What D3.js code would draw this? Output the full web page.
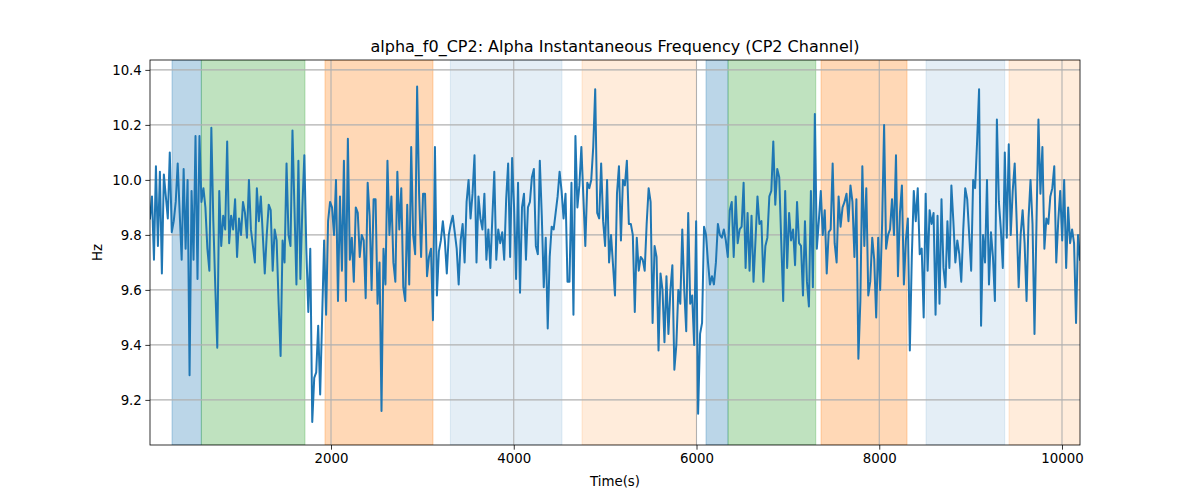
<!DOCTYPE html>
<html><head><meta charset="utf-8">
<script src="https://cdn.jsdelivr.net/npm/d3@7"></script>
<style>body{margin:0;background:#fff} text{font-family:"DejaVu Sans",sans-serif;fill:#000}</style>
</head><body><svg id="c" width="1200" height="500"></svg>
<script>
// time extent of the recording (s)
const tStart = 19, tEnd = 10197;
// alpha instantaneous frequency (Hz), evenly sampled from tStart to tEnd
const freq = [
9.86,9.94,9.71,10.05,9.76,10.03,9.66,10.02,9.94,9.86,10.10,9.81,9.85,9.92,10.06,9.88,9.71,10.04,9.75,10.00,9.29,9.96,9.71,10.16,9.64,10.16,9.92,9.97,9.90,9.75,9.67,10.19,9.85,9.61,9.39,9.96,9.76,9.87,9.82,10.14,9.77,9.87,9.82,9.93,9.72,9.86,9.80,9.92,
9.88,9.79,10.00,9.82,9.76,9.70,9.97,9.85,9.94,9.80,9.66,9.80,9.91,9.89,9.67,9.82,9.78,9.55,9.36,9.78,9.70,10.06,9.80,9.76,10.18,9.90,9.62,10.07,9.64,9.90,10.09,9.75,9.52,9.75,9.12,9.28,9.30,9.47,9.22,9.50,9.78,9.51,9.85,9.92,9.90,9.80,10.00,9.56,
9.94,9.67,10.07,9.56,10.15,9.71,9.79,9.63,9.90,9.88,9.72,9.80,9.78,9.57,9.99,9.87,9.60,9.93,9.93,9.55,9.70,9.16,9.75,9.62,10.07,9.80,9.94,9.70,9.63,10.03,9.82,9.97,9.61,9.56,9.91,9.62,10.12,9.80,9.73,10.34,9.95,9.72,9.95,9.95,9.65,9.72,9.75,9.49,
10.12,9.58,9.74,9.78,9.85,9.78,9.66,9.80,9.84,9.87,9.81,9.75,9.62,9.78,9.84,9.70,9.92,10.00,9.86,9.95,10.09,9.70,9.94,9.86,9.82,9.95,9.71,9.82,9.68,9.86,10.03,9.71,9.82,9.77,9.81,9.71,9.93,10.06,9.72,10.08,9.90,9.64,9.99,9.59,9.90,9.95,9.71,9.90,
9.92,10.01,10.04,9.76,9.73,10.07,9.87,9.61,9.79,9.46,9.72,9.83,9.82,9.88,9.94,10.03,9.96,9.86,9.95,9.63,9.63,9.99,9.51,10.16,9.90,9.98,10.12,9.94,9.76,9.99,9.97,10.00,10.12,10.33,9.88,9.86,10.06,9.85,9.76,10.00,9.70,9.80,9.69,9.58,9.95,10.05,9.78,10.00,
9.98,10.07,9.84,9.84,9.80,9.52,9.79,9.67,9.72,9.71,9.67,9.84,9.97,9.92,9.48,9.76,9.72,9.38,9.66,9.60,9.41,9.65,9.44,9.60,9.69,9.31,9.40,9.60,9.55,9.82,9.60,9.45,9.88,9.55,9.58,9.40,9.85,9.15,9.44,9.48,9.83,9.80,9.70,9.62,9.65,9.62,9.70,9.84,
9.80,9.79,9.82,9.78,9.72,9.89,9.92,9.72,9.94,9.77,9.82,9.83,9.99,9.68,9.88,9.67,9.87,9.63,9.78,9.94,9.84,9.85,9.63,9.76,9.79,9.94,9.96,10.14,9.91,10.04,10.01,9.78,9.56,9.96,9.68,9.88,9.78,9.82,9.69,9.92,9.77,9.76,9.58,9.85,9.63,9.54,9.96,9.61,
10.24,9.75,9.85,9.96,9.80,9.89,9.66,9.81,9.82,10.06,9.77,9.70,9.94,9.83,9.90,9.92,9.95,9.85,9.98,9.92,9.72,9.93,9.35,9.56,10.05,9.76,9.97,9.58,9.63,9.79,9.71,9.50,9.79,9.60,9.84,10.20,9.75,9.80,9.82,9.93,9.80,10.09,9.65,9.88,9.98,9.62,9.78,9.86,
9.38,9.72,9.96,9.85,9.97,9.73,9.75,9.50,9.95,9.67,9.89,9.84,9.88,9.51,9.87,9.55,9.93,9.68,9.61,9.85,9.68,9.98,9.85,9.70,9.78,9.73,9.63,9.82,9.97,9.93,9.80,9.67,10.00,9.97,10.14,10.33,9.47,9.80,9.70,10.00,9.62,9.81,9.72,9.56,10.22,9.92,9.82,9.68,
10.10,9.79,10.13,9.80,9.96,10.06,9.85,9.61,9.80,9.89,9.77,9.56,9.86,10.00,9.84,9.44,9.84,10.22,9.95,10.12,9.75,9.86,9.84,9.94,9.97,10.05,9.70,9.85,9.96,9.78,10.00,9.68,9.90,9.77,9.82,9.77,9.48,9.80,9.71
];
const xTicks = [2000, 4000, 6000, 8000, 10000];
const yTicks = [9.2, 9.4, 9.6, 9.8, 10.0, 10.2, 10.4];
const yDomain = [9.036, 10.436];
// shaded phases
const bandStart = [260, 581, 1934, 3306, 4747, 6104, 6345, 7363, 8512, 9420];
const bandEnd   = [581, 1715, 3116, 4528, 5998, 6345, 7305, 8304, 9373, 10400];
const bandKind  = ["blue","green","orange","lightblue","lightorange","blue","green","orange","lightblue","lightorange"];

const kindStyle = {
  blue:{c:"#1f77b4",a:0.3}, green:{c:"#2ca02c",a:0.3}, orange:{c:"#ff7f0e",a:0.3},
  lightblue:{c:"#1f77b4",a:0.12}, lightorange:{c:"#ff7f0e",a:0.15}
};

const W=1200,H=500, L=150,R=1080,T=60,B=445;
const svg=d3.select("#c");
const x=d3.scaleLinear().domain([tStart,tEnd]).range([L,R]);
const y=d3.scaleLinear().domain(yDomain).range([B,T]);
const dt=(tEnd-tStart)/(freq.length-1);
const data=freq.map((v,i)=>({t:tStart+i*dt,v}));

svg.append("defs").append("clipPath").attr("id","clip").append("rect")
  .attr("x",L).attr("y",T).attr("width",R-L).attr("height",B-T);

const bands=bandStart.map((s,i)=>({s,e:bandEnd[i],k:kindStyle[bandKind[i]]}));
svg.append("g").attr("clip-path","url(#clip)").selectAll("rect").data(bands).join("rect")
  .attr("x",d=>x(d.s)).attr("width",d=>x(d.e)-x(d.s))
  .attr("y",T).attr("height",B-T)
  .attr("fill",d=>d.k.c).attr("fill-opacity",d=>d.k.a)
  .attr("stroke",d=>d.k.c).attr("stroke-opacity",d=>d.k.a).attr("stroke-width",1);

// grid
const g=svg.append("g");
g.selectAll(".gx").data(xTicks).join("line")
  .attr("x1",d=>x(d)).attr("x2",d=>x(d)).attr("y1",T).attr("y2",B)
  .attr("stroke","#b0b0b0").attr("stroke-width",1.07);
g.selectAll(".gy").data(yTicks).join("line")
  .attr("y1",d=>y(d)).attr("y2",d=>y(d)).attr("x1",L).attr("x2",R)
  .attr("stroke","#b0b0b0").attr("stroke-width",1.07);

// line
svg.append("path").datum(data).attr("clip-path","url(#clip)")
  .attr("fill","none").attr("stroke","#1f77b4").attr("stroke-width",2)
  .attr("stroke-linejoin","round").attr("stroke-linecap","square")
  .attr("d",d3.line().x(d=>x(d.t)).y(d=>y(d.v)));

// axes
const xa=svg.append("g").attr("transform",`translate(0,${B})`)
  .call(d3.axisBottom(x).tickValues(xTicks).tickFormat(d3.format("d")).tickSize(4.67).tickPadding(3.5));
const ya=svg.append("g").attr("transform",`translate(${L},0)`)
  .call(d3.axisLeft(y).tickValues(yTicks).tickFormat(d3.format(".1f")).tickSize(4.67).tickPadding(3.5));
[xa,ya].forEach(a=>{
  a.select(".domain").remove();
  a.selectAll(".tick line").attr("stroke","#000").attr("stroke-width",0.8);
  a.selectAll(".tick text").attr("font-size","13.33px").attr("font-family","DejaVu Sans").attr("fill","#000");
});
svg.append("rect").attr("x",L).attr("y",T).attr("width",R-L).attr("height",B-T)
  .attr("fill","none").attr("stroke","#000").attr("stroke-width",0.8);

svg.append("text").attr("x",(L+R)/2).attr("y",52).attr("text-anchor","middle")
  .attr("font-size","16px").text("alpha_f0_CP2: Alpha Instantaneous Frequency (CP2 Channel)");
svg.append("text").attr("x",(L+R)/2).attr("y",486).attr("text-anchor","middle")
  .attr("font-size","13.33px").text("Time(s)");
svg.append("text").attr("transform",`translate(102,${(T+B)/2}) rotate(-90)`).attr("text-anchor","middle")
  .attr("font-size","13.33px").text("Hz");
</script></body></html>
